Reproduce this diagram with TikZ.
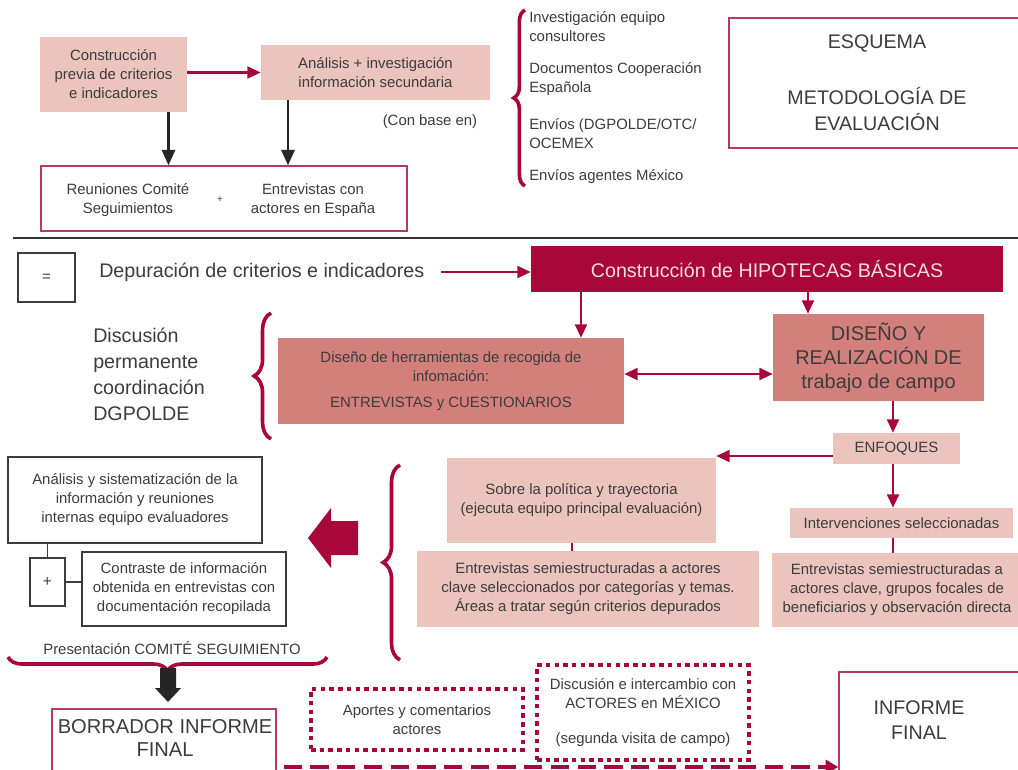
\documentclass[tikz,border=0pt]{standalone}
\usepackage{fontspec}
\setmainfont{Liberation Sans}
\usepackage{xcolor}
\usetikzlibrary{arrows.meta,calc,decorations.pathreplacing}
\definecolor{crim}{HTML}{A8073A}
\definecolor{mpink}{HTML}{D3807C}
\definecolor{lpink}{HTML}{EAC4BD}
\definecolor{ink}{HTML}{3C3C3C}
\definecolor{hipotxt}{HTML}{F4DEDE}
\newcommand{\pu}{0.025cm}

\begin{document}
\begin{tikzpicture}[x=\pu,y=-\pu,
    every node/.style={text=ink,align=center,inner sep=0pt,font=\fontsize{10.6}{13.5}\selectfont},
    sz/.style 2 args={minimum width=#1*\pu,minimum height=#2*\pu},
    pink/.style={fill=lpink},
    rose/.style={fill=mpink},
    wine/.style={fill=crim,text=hipotxt},
    frame/.style={draw=crim!80,line width=1pt,fill=white},
    blk/.style={draw=ink,line width=1pt},
    dots/.style={draw=crim,line width=2.5pt,dash pattern=on 3.2pt off 3pt},
    big/.style={font=\fontsize{14}{17}\selectfont},
    karrow/.style={draw=black!85,line width=1.5pt,-{Triangle[length=11pt,width=9.5pt]}},
    carrow/.style={draw=crim,line width=1.6pt,-{Triangle[length=9.5pt,width=8.5pt]}},
    brc/.style={draw=crim,line width=2.6pt,decorate,decoration={brace,amplitude=#1}}]
  \useasboundingbox (0,0) rectangle (1018,769);
  \clip (0,0) rectangle (1018,769);

  \node[pink,sz={147}{75}] (cpre) at (113.5,74.5) {Construcción\\previa de criterios\\e indicadores};
  \node[pink,sz={229}{55}] (anal) at (375.5,72.5) {Análisis + investigación\\información secundaria};
  \node[frame,sz={366}{65}] (reun) at (224,198.5) {};
  \node (reunA) at (128,200) {Reuniones Comité\\Seguimientos};
  \node[font=\scriptsize] (mas) at (220,200) {+};
  \node (reunB) at (313,200) {Entrevistas con\\actores en España};
  \node (base) at (430,122) {(Con base en)};
  \draw[carrow] (cpre.east |- anal.west) -- (anal.west);
  \draw[karrow] ($(cpre.south)+(55,0)$) coordinate (k1) -- (k1 |- reun.north);
  \draw[karrow] ($(anal.south)+(-87.5,0)$) coordinate (k2) -- (k2 |- reun.north);

  \draw[brc=8pt] (525,186) -- (525,10);
  \node[anchor=west,align=left] (l1) at (529,26.5) {Investigación equipo\\consultores};
  \node[anchor=west,align=left] (l2) at (529,79.5) {Documentos Cooperación\\Española};
  \node[anchor=west,align=left] (l3) at (529,133.5) {Envíos (DGPOLDE/OTC/\\OCEMEX};
  \node[anchor=west,align=left] (l4) at (529,177) {Envíos agentes México};

  \node[frame,sz={300}{130}] (esq) at (879,83) {};
  \node[font=\fontsize{14}{19}\selectfont] (esqT) at (877,43) {ESQUEMA};
  \node[font=\fontsize{14}{18.5}\selectfont] (metT) at (877,109) {METODOLOGÍA DE\\EVALUACIÓN};

  \draw[line width=2pt,black!80] (13,238) -- (1018,238);

  \node[blk,line width=1.8pt,sz={57}{49}] (eq) at (46.5,277.5) {=};
  \node[big,anchor=west] (depu) at (99,272) {Depuración de criterios e indicadores};
  \node[wine,big,sz={472}{46}] (hipo) at (767,269) {Construcción de HIPOTECAS BÁSICAS};
  \draw[carrow,shorten <=12pt] (depu.east) -- (hipo.west |- depu.east);
  \node[rose,sz={346}{86}] (herr) at (451,381)
    {Diseño de herramientas de recogida de\\infomación:\\[5pt]ENTREVISTAS y CUESTIONARIOS};
  \node[rose,sz={211}{87},font=\fontsize{14.2}{17}\selectfont] (disen) at (878.5,357.5)
    {DISEÑO Y\\REALIZACIÓN DE\\trabajo de campo};
  \node[pink,sz={127}{31}] (enf) at (896.5,448.5) {ENFOQUES};
  \draw[carrow] ($(hipo.south)+(-186,0)$) coordinate (h1) -- (h1 |- herr.north);
  \draw[carrow] ($(hipo.south)+(41,0)$) coordinate (h2) -- (h2 |- disen.north);
  \draw[carrow,{Triangle[length=9.5pt,width=8.5pt]}-{Triangle[length=9.5pt,width=8.5pt]}]
    ($(herr.east)+(0,-7)$) coordinate (d1) -- (disen.west |- d1);
  \draw[carrow] ($(disen.south)+(14.5,0)$) coordinate (d2) -- (d2 |- enf.north);

  \node[align=left,anchor=west,font=\fontsize{14}{18.4}\selectfont] (discT) at (93,374.5)
    {Discusión\\permanente\\coordinación\\DGPOLDE};
  \draw[brc=12pt] (271,439) -- (271,313);

  \node[pink,sz={269}{85}] (sobre) at (581.5,500.5) {Sobre la política y trayectoria\\(ejecuta equipo principal evaluación)};
  \node[pink,sz={342}{76}] (entA) at (588,589)
    {Entrevistas semiestructuradas a actores\\clave seleccionados por categorías y temas.\\Áreas a tratar según criterios depurados};
  \node[pink,sz={223}{30}] (interv) at (901.5,523) {Intervenciones seleccionadas};
  \node[pink,sz={250}{74}] (entB) at (897,590)
    {Entrevistas semiestructuradas a\\actores clave, grupos focales de\\beneficiarios y observación directa};
  \draw[carrow] ($(enf.west)+(0,7.5)$) coordinate (e1) -- (sobre.east |- e1);
  \draw[carrow] ($(enf.south)+(-3.5,0)$) coordinate (e2) -- (e2 |- interv.north);
  \draw[crim,line width=1.5pt] ($(sobre.south)+(-9.5,0)$) coordinate (s1) -- (s1 |- entA.north);
  \draw[crim,line width=1.5pt] ($(interv.south)+(-8.5,0)$) coordinate (s2) -- (s2 |- entB.north);
  \draw[brc=12pt] (400,660) -- (400,465);
  \fill[crim] (358,521) -- (331,521) -- (331,508) -- (308,538) -- (331,568) -- (331,555) -- (358,555) -- cycle;

  \node[blk,sz={254}{86}] (analsis) at (135,500)
    {Análisis y sistematización de la\\información y reuniones\\internas equipo evaluadores};
  \node[blk,line width=1.8pt,sz={35}{48},font=\fontsize{11}{13}\selectfont] (plus) at (47.5,582) {+};
  \node[blk,sz={204}{74}] (contr) at (184,589)
    {Contraste de información\\obtenida en entrevistas con\\documentación recopilada};
  \draw[ink,line width=1pt] (plus.north) -- (plus.north |- analsis.south);
  \draw[ink,line width=1pt] (plus.east) -- (contr.west |- plus.east);
  \node (pres) at (172,648) {Presentación COMITÉ SEGUIMIENTO};
  \draw[brc=10pt] (327,657) -- (8,657);
  \fill[black!85] (160,668) -- (176,668) -- (176,688) -- (181,688) -- (168,702) -- (155,688) -- (160,688) -- cycle;

  \node[frame,sz={224}{90}] (borr) at (164,754) {};
  \node[font=\fontsize{14.3}{17}\selectfont] (borrT) at (165,738) {BORRADOR INFORME\\FINAL};
  \node[dots,sz={212}{61}] (aport) at (417,719.5) {Aportes y comentarios\\actores};
  \node[dots,sz={212}{95}] (discu) at (643,712.5)
    {Discusión e intercambio con\\ACTORES en MÉXICO\\[12pt](segunda visita de campo)};
  \node[frame,sz={200}{120}] (infin) at (939,732) {};
  \node[font=\fontsize{14}{17.7}\selectfont] (infT) at (919,720.5) {INFORME\\FINAL};
  \coordinate (dl) at (0,767);
  \draw[crim,line width=2.2pt,dash pattern=on 13pt off 6pt,shorten <=5pt,
    -{Triangle[length=9pt,width=10pt]}] (borr.east |- dl) -- (infin.west |- dl);
\end{tikzpicture}
\end{document}
